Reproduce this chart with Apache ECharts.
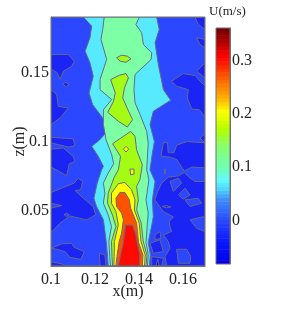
<!DOCTYPE html>
<html><head><meta charset="utf-8">
<style>html,body{margin:0;padding:0;background:#fff}#c{width:303px;height:314px}</style>
<script src="https://cdn.jsdelivr.net/npm/echarts@6/dist/echarts.min.js"></script>
</head><body><div id="c"></div>
<script>
// all contour outlines are [x mm, z mm]
const xTicks=[0.1,0.12,0.14,0.16];
const zTicks=[0.05,0.1,0.15];
const uTicks=[0,0.1,0.2,0.3];
const field=[[[100,10],[170,10],[170,190],[100,190]]];
const lowPatches=[
 [[100,162.9],[107.9,162.9],[110.6,158],[109.4,154.4],[105.6,150.8],[104.1,144.8],[102.9,149.6],[100,152.5]],
 [[105.3,141.9],[106.8,142.8],[108.3,141.2],[106.8,139.5]],
 [[100,137.5],[102.6,133.9],[103.3,125.4],[107.9,124.2],[104.1,117],[100,112.2]],
 [[100,103],[110,102],[110.9,97],[107.9,96],[100,99]],
 [[100,94.5],[105.6,95.3],[110.1,89.2],[110.9,85.6],[108.3,83.9],[107.1,75.2],[103.8,78.4],[100,81.5]],
 [[100,63.1],[104.9,66.3],[110.5,69.9],[112.4,73.5],[114.4,71.1],[113.5,65.1],[110.9,64.6],[114.7,59],[119.2,53],[120.3,46.9],[116.2,43.3],[108.6,46.2],[104.1,40.9],[100,34.2]],
 [[100,22.8],[104.9,26],[109.4,26.4],[110.5,23.5],[115.2,20.4],[113.5,14.8],[108.6,16.3],[106.4,20.4],[102.6,22.1]],
 [[100,13.1],[104.9,11.5],[106.4,10],[100,10]],
 [[122,19.2],[124.5,18],[125,10],[122.3,10]],
 [[165.5,189.5],[170,190],[170,181],[167,184.6]],
 [[166.2,175],[170,173.8],[170,167.7],[167.7,170.1]],
 [[166.2,150.8],[170,156.9],[170,146]],
 [[154.8,143.6],[157.1,140],[162.4,137.5],[162,131.5],[163.9,123.5],[167.4,123],[170,117.7],[170,140.4],[167.7,143.6],[165.5,147.7],[160.2,149.1]],
 [[167.7,102.5],[170,105.6],[170,98.9]],
 [[151.1,99.1],[152.9,99.1],[153.3,91.9],[155.9,91.9],[157.1,97.4],[161.7,99.9],[170,99.1],[170,81],[163.9,81.5],[160.6,78.6],[157.1,87],[154.1,88.7],[150,89.5]],
 [[150.3,69.9],[153.3,74.2],[157.9,75.2],[160.6,77.6],[162.4,74.7],[165.4,71.1],[170,71.1],[170,10],[152.6,10],[151.8,16.8],[154.1,22.8],[153.3,27.7],[151.1,32.5],[154.8,34.9],[154.1,38.5],[153.8,42.1],[155.6,45.5],[151,49.4],[147.2,57.8],[148.5,64]],
 [[145,26.4],[149.5,28.9],[151.1,20.4],[146.5,19.2]],
 [[145.8,16.8],[151.1,15.6],[150.3,10],[145.8,10]],
 [[147.3,32.5],[149.5,34.9],[150,30],[147.3,28.9]],
 [[150.6,53],[152.5,53.7],[154.5,52.7],[152.5,52]],
 [[151.6,80],[152.1,80],[152.1,76.7],[151.6,76.7]]
];
const lowHoles=[
 [[100,55.4],[104.9,53.7],[100,51.8]],
 [[105.9,47.2],[107.1,48.2],[108.3,47],[107.1,45.7]],
 [[154.1,71.1],[157.9,73.5],[159.4,69.9],[155.6,63.9]],
 [[157.9,61.4],[160.9,66.3],[163.2,61.4],[160.1,58.3]],
 [[160.9,57.8],[166.9,59],[168.5,55.4],[163.2,53]],
 [[163.2,43.3],[169.2,45.7],[170,44.5],[170,34.9],[166.2,37.3]],
 [[157.1,22.1],[161.7,22.1],[163.5,16.8],[163.2,12],[157.9,12]]
];
const lowest=[[[147.7,10],[148.5,14.8],[149.2,10]]];
const cyanBand=[[[114.7,190],[118.5,183.4],[117.7,175],[115.5,165.3],[117.7,156.9],[119.2,147.2],[117.3,135.1],[118.9,126.7],[123.5,117],[125.5,107.3],[122.2,101.3],[118.5,96.5],[121.5,89.2],[123.8,82],[123,79.6],[121,69.9],[119.5,59],[120.7,53],[123.8,43.4],[125,28.9],[125.7,17],[126,10],[144.7,10],[145.2,18],[144.2,27],[146,41],[146.5,45.7],[146.1,57.8],[147.3,71.1],[145,79.6],[146.1,91.6],[147,100],[145,112.2],[146.5,121.8],[154.4,129.8],[151.1,137.5],[148.8,155.6],[147.3,171.3],[149.2,181],[148,190]]];
const mintBand=[[[124.2,190],[123.5,181],[122.7,173.8],[125.3,159.3],[122.3,144.8],[122.3,137.5],[127.6,130.3],[123.8,123],[123.8,112.2],[124.5,106.1],[125,101.3],[127.6,90.4],[128.5,84],[126,77.1],[123.8,69.9],[124.5,62.7],[123.8,55.4],[126,47],[127.5,38.5],[126.3,27.7],[126.7,17],[127.1,10],[143.8,10],[144.2,18],[143.2,27],[143.8,41],[144.2,48.2],[143.2,57.8],[144.5,72.3],[143.5,79.6],[144.2,98.9],[143.5,107.3],[140.5,119.4],[138.2,127.9],[137.7,137.5],[138.2,148.4],[145.5,159.3],[145.8,164.1],[142,170.1],[141.2,178.6],[138.6,184.6],[140.2,190]]];
const limeBand=[
 [[136.2,107.3],[138.2,103.7],[138.9,94],[141.5,83.2],[140.4,72.3],[138.9,67.5],[139.7,57.9],[138.9,50.6],[141,41],[141.9,28],[143.6,18],[143.2,10],[128,10],[127.7,17],[127.5,27.7],[129.5,38.5],[127.9,47],[125.7,55.4],[126,62.7],[128.6,73.6],[130.6,79.6],[131,83.2],[131.6,89.2],[128,98.4]],
 [[127.1,144.8],[131.1,147.9],[134.1,149.1],[135.2,146],[133.4,138.7],[132.6,131.5],[134.6,124.2],[137.1,115.8],[134.7,110.5],[130.6,114.6],[125.8,121.1],[128.4,129.1],[129.2,135.1]],
 [[129.8,160.5],[132.1,162.4],[134.7,161.7],[136.4,159.8],[134.1,157.3],[131.4,158.1]]
];
const yellowBand=[
 [[130.6,69.5],[133.6,70.4],[136.6,65.1],[138.2,57.9],[137.9,50.6],[140.1,41],[140.9,27.7],[142.8,18],[142.5,10],[128.6,10],[128.7,17],[128.8,27.7],[130.6,39.7],[129.5,49.4],[127.5,55.4],[127.5,62.7]],
 [[132.9,94.5],[134.1,96.5],[135.3,94.5],[134.1,92.4]],
 [[135.9,80],[137.7,80],[137.7,76.4],[136.2,76]]
];
const orangeBand=[[[131.3,63.2],[133.6,63.2],[135.6,57.9],[136.2,51.8],[138.9,41],[139.8,27],[141.8,18],[141.5,10],[129.5,10],[130,17],[131,27.7],[132.1,33.7],[132.9,43.4],[132.1,48.2],[129.8,53],[129.5,59]]];
const redBand=[[[133.9,39.5],[137,39.5],[138.5,33],[139.3,26],[140.4,18],[140.2,10],[130.6,10],[131.8,19.2],[132.8,26],[133.4,33]]];

const layers=[
 [field,'#2b47ff'],[lowPatches,'#1a24f4'],[lowHoles,'#2b47ff'],[lowest,'#0a0cc8'],
 [cyanBand,'#57eaff'],[mintBand,'#7dffa6'],[limeBand,'#a4fb14'],[yellowBand,'#ffff00'],
 [orangeBand,'#ff5200'],[redBand,'#ff0a00']
];
const polygons=[];
layers.forEach(([list,color])=>list.forEach(ring=>polygons.push({ring,color})));

// colour bar: stepped colour scale keyed to U(m/s)
const barMin=-0.082, barMax=0.361, barSteps=64;
const scaleStops=[[-0.082,'#0000e6'],[-0.04,'#0a18ff'],[0,'#2a48ff'],[0.04,'#3f90ff'],[0.06,'#4fd8ff'],[0.075,'#60f8ff'],[0.1,'#70ffb0'],[0.14,'#88ff70'],[0.17,'#b0ff00'],[0.205,'#ffff00'],[0.23,'#ffb000'],[0.26,'#ff7000'],[0.3,'#ff1000'],[0.31,'#ff0000'],[0.33,'#c00000'],[0.361,'#700000']];
function scaleColor(v){
 for(let i=1;i<scaleStops.length;i++){
  if(v<=scaleStops[i][0]){
   const [a,ca]=scaleStops[i-1],[b,cb]=scaleStops[i];
   return echarts.color.lerp((v-a)/(b-a),[ca,cb]);
  }
 }
 return scaleStops[scaleStops.length-1][1];
}
const barCells=[];
for(let i=0;i<barSteps;i++){
 const lo=barMin+(barMax-barMin)*i/barSteps, hi=barMin+(barMax-barMin)*(i+1)/barSteps;
 barCells.push([lo,hi]);
}

const font='"Liberation Serif"', ink='#222', edge='#707070';
const chart=echarts.init(document.getElementById('c'),null,{renderer:'canvas'});
chart.setOption({
 animation:false,
 backgroundColor:'#fff',
 title:{text:'U(m/s)',left:204,top:0,textStyle:{fontFamily:font,fontSize:13,fontWeight:'normal',color:ink}},
 grid:[
  {left:51,top:17,width:154,height:249,show:true,outerBoundsMode:'none',backgroundColor:'transparent',borderColor:edge,borderWidth:1,z:5},
  {left:216,top:28,width:14,height:236,show:true,outerBoundsMode:'none',backgroundColor:'transparent',borderColor:edge,borderWidth:1,z:5}
 ],
 xAxis:[
  {type:'value',gridIndex:0,min:0.1,max:0.17,name:'x(m)',nameLocation:'middle',nameGap:18,nameMoveOverlap:false,
   nameTextStyle:{fontFamily:font,fontSize:16,color:ink},
   splitLine:{show:false},axisLine:{onZero:false,lineStyle:{color:edge}},
   axisTick:{inside:true,length:2,lineStyle:{color:edge},customValues:xTicks},
   axisLabel:{fontFamily:font,fontSize:16,color:ink,margin:6,customValues:xTicks,hideOverlap:false,formatter:v=>String(+v.toFixed(3))}},
  {type:'value',gridIndex:1,min:0,max:1,show:false}
 ],
 yAxis:[
  {type:'value',gridIndex:0,min:0.01,max:0.19,name:'z(m)',nameLocation:'middle',nameGap:23,nameRotate:90,nameMoveOverlap:false,
   nameTextStyle:{fontFamily:font,fontSize:16,color:ink},
   splitLine:{show:false},axisLine:{onZero:false,lineStyle:{color:edge}},
   axisTick:{inside:true,length:2,lineStyle:{color:edge},customValues:zTicks},
   axisLabel:{fontFamily:font,fontSize:16,color:ink,margin:2,customValues:zTicks,formatter:v=>String(+v.toFixed(3))}},
  {type:'value',gridIndex:1,min:barMin,max:barMax,position:'right',
   splitLine:{show:false},axisLine:{onZero:false,lineStyle:{color:edge}},
   axisTick:{inside:true,length:2,lineStyle:{color:edge},customValues:uTicks},
   axisLabel:{fontFamily:font,fontSize:16,color:ink,margin:2,customValues:uTicks,formatter:v=>String(+v.toFixed(3))}}
 ],
 series:[
  {type:'custom',xAxisIndex:0,yAxisIndex:0,clip:true,silent:true,
   data:polygons.map((p,i)=>[i]),
   encode:{x:[],y:[]},
   renderItem(params,api){
    const p=polygons[params.dataIndex];
    return {type:'polygon',shape:{points:p.ring.map(q=>api.coord([q[0]/1000,q[1]/1000]))},
     style:{fill:p.color,stroke:'#66668a',lineWidth:1}};
   }},
  {type:'custom',xAxisIndex:1,yAxisIndex:1,clip:true,silent:true,
   data:barCells.map((c,i)=>[i]),
   encode:{x:[],y:[]},
   renderItem(params,api){
    const c=barCells[params.dataIndex];
    const a=api.coord([0,c[0]]),b=api.coord([1,c[1]]);
    return {type:'rect',shape:{x:a[0],y:b[1],width:b[0]-a[0],height:a[1]-b[1]+0.5},
     style:{fill:scaleColor((c[0]+c[1])/2)}};
   }}
 ]
});
</script></body></html>
